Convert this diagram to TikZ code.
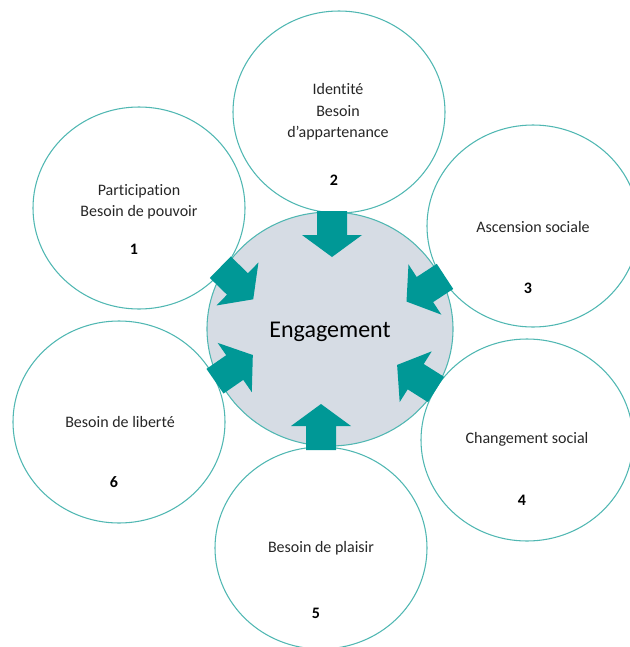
\documentclass[tikz,border=0pt]{standalone}
\usepackage{fontspec}
\setmainfont{Carlito}[Ligatures={NoCommon}]
\usetikzlibrary{shapes.geometric}
\definecolor{ringline}{RGB}{80,183,178}
\definecolor{pushfill}{RGB}{0,152,150}
\definecolor{corefill}{RGB}{214,220,228}
\begin{document}
\begin{tikzpicture}[x=0.75pt, y=-0.75pt,
        need/.style={ellipse, draw=ringline, line width=0.8pt, minimum width=159pt, minimum height=151.5pt, inner sep=0pt},
        core/.style={ellipse, draw=ringline, fill=corefill, line width=0.8pt, minimum width=184.5pt, minimum height=175.5pt, inner sep=0pt},
        coretext/.style={inner sep=0pt, text=black, font=\fontsize{18}{22}\selectfont},
        needtext/.style={align=center, inner sep=0pt, text=black!85, font=\fontsize{12}{16}\selectfont},
        neednum/.style={inner sep=0pt, text=black, font=\fontsize{12}{14}\selectfont\bfseries},
        push/.pic={\fill[pushfill] (0,-15) -- (24,-15) -- (24,-30) -- (46,0) -- (24,30) -- (24,15) -- (0,15) -- cycle;}]
        \useasboundingbox (0,0) rectangle (630,647);

        % CENTRE
        \node[core] (core) at (330,329) {};
        \node[coretext] (coretitle) at (330,332) {Engagement};

        % NEEDS
        \foreach \n/\cx/\cy/\tx/\ty/\ny/\txt in {
            1/139/208/139/202/249/{Participation\\Besoin de pouvoir},
            2/339/112/338/112/180/{Identité\\Besoin\\d’appartenance},
            3/533/226/533/227/288/{Ascension sociale},
            4/527/440/527/439/500/{Changement social},
            5/321/548/321/548/613/{Besoin de plaisir},
            6/119/422/120/422/482/{Besoin de liberté}} {
            \node[need] (need\n) at (\cx,\cy) {};
            \node[needtext] (text\n) at (\tx,\ty) {\txt};
            \node[neednum] (num\n) at (\cx-5,\ny) {\n};
        }

        % ARROWS
        \foreach \px/\py/\ang in {220.3/267.2/-44.3, 332/211/-90, 445/276.4/-146.8, 436/389.5/147.7, 321/450/90, 215/381.2/34.7} {
            \pic[rotate=\ang] at (\px,\py) {push};
        }
    \end{tikzpicture}
\end{document}
